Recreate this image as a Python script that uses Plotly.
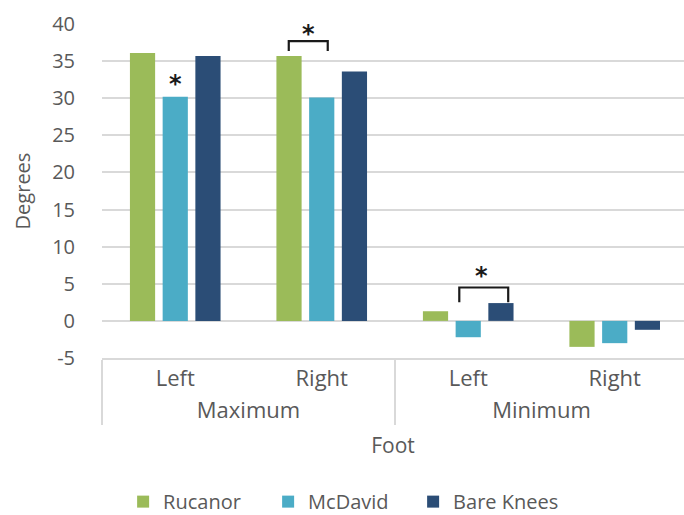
import plotly.graph_objects as go

groups = ["Maximum", "Maximum", "Minimum", "Minimum"]
feet = ["Left", "Right", "Left", "Right"]
series_names = ["Rucanor", "McDavid", "Bare Knees"]
rucanor = [36.1, 35.7, 1.3, -3.5]
mcdavid = [30.2, 30.1, -2.2, -3.0]
bare_knees = [35.7, 33.6, 2.4, -1.2]
colors = ["#9BBB59", "#4BACC6", "#2B4D76"]
y_ticks = [-5, 0, 5, 10, 15, 20, 25, 30, 35, 40]
y_tick_text = ["-5", "0", "5", "10", "15", "20", "25", "30", "35", "40"]

GRAY = "#595959"
GRID = "#d9d9d9"
FONT = "Open Sans"

fig = go.Figure()
for name, vals, col in zip(series_names, [rucanor, mcdavid, bare_knees], colors):
    fig.add_trace(go.Bar(x=[groups, feet], y=vals, name=name, marker_color=col,
                         marker_line_width=0))

# significance brackets (x in category index units)
def bracket(x0, x1, ytop, ybot):
    return dict(type="path", xref="x", yref="y",
                path=f"M {x0},{ybot} L {x0},{ytop} L {x1},{ytop} L {x1},{ybot}",
                line=dict(color="#1a1a1a", width=2.2))

fig.add_shape(bracket(0.775, 1.041, 37.7, 36.35))
fig.add_shape(bracket(1.939, 2.273, 4.5, 2.5))

for xa, ya in [(0.0, 31.9), (0.908, 38.6), (2.093, 6.0)]:
    fig.add_annotation(x=xa, y=ya, xref="x", yref="y", text="<b>*</b>", showarrow=False,
                       font=dict(family="DejaVu Sans", size=24, color="#1a1a1a"),
                       yanchor="middle")

fig.update_layout(
    width=684, height=515,
    margin=dict(l=102, r=0, t=24, b=157, autoexpand=False),
    paper_bgcolor="white", plot_bgcolor="white",
    barmode="group", bargap=0.33, bargroupgap=0.23,
    font=dict(family=FONT, color=GRAY),
    legend=dict(orientation="h", xref="paper", yref="paper",
                x=0.41, y=-0.43, xanchor="center", yanchor="middle",
                entrywidth=100,
                font=dict(family=FONT, size=20, color=GRAY)),
    showlegend=True,
)
fig.update_yaxes(range=[-5, 40], tickvals=y_ticks, ticktext=y_tick_text,
                 showgrid=True, gridcolor=GRID,
                 gridwidth=1.5, zeroline=False, showline=False,
                 tickfont=dict(family=FONT, size=20, color=GRAY),
                 ticklabelstandoff=26,
                 title=dict(text="Degrees", font=dict(family=FONT, size=20, color=GRAY),
                            standoff=16))
fig.update_xaxes(type="multicategory", range=[-0.5, 3.473], showline=True,
                 linecolor=GRID, linewidth=1.5, showdividers=True,
                 dividercolor=GRID, dividerwidth=1.5,
                 tickfont=dict(family=FONT, size=22, color=GRAY),
                 title=dict(text="Foot", font=dict(family=FONT, size=21, color=GRAY),
                            standoff=15))

fig.write_html("out.html")
